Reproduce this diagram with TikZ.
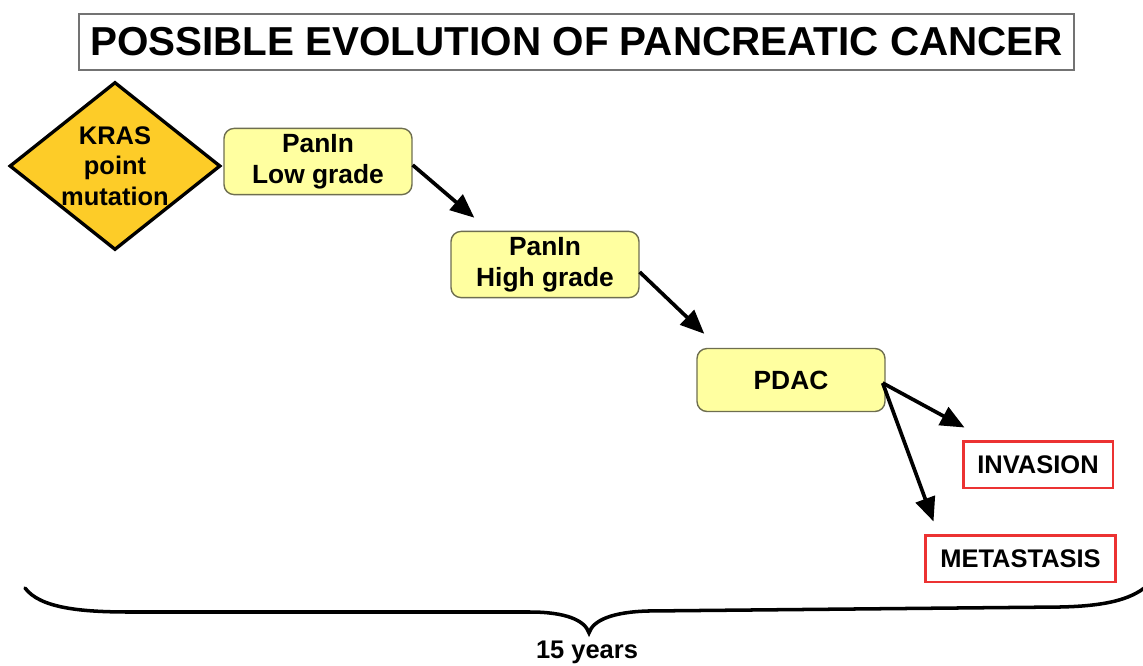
\documentclass[tikz,border=0pt]{standalone}
\usepackage{fontspec}
\setmainfont{Liberation Sans}
\usetikzlibrary{shapes.geometric,arrows.meta,positioning}

\definecolor{krasgold}{RGB}{253,204,40}
\definecolor{paninfill}{RGB}{255,255,160}
\definecolor{paninedge}{RGB}{110,110,80}
\definecolor{outred}{RGB}{236,50,50}

\tikzset{
  stage/.style={draw=paninedge, fill=paninfill, rounded corners=0.2cm, line width=0.8pt,
    minimum width=3.76cm, minimum height=1.26cm, align=center,
    font=\bfseries\fontsize{15}{17.5}\selectfont},
  outcome/.style={draw=outred, fill=white, line width=1.7pt, minimum height=0.94cm,
    font=\bfseries\fontsize{14.5}{17}\selectfont},
  flow/.style={-{Triangle[length=0.48cm,width=0.4cm]}, line width=2.1pt},
}

\begin{document}
\begin{tikzpicture}[x=0.02cm, y=-0.02cm]

    % Canvas
    \useasboundingbox (0,0) rectangle (1143,666);

    % Title
    \node[draw=black!55, line width=0.7pt, minimum width=19.9cm, minimum height=1.12cm,
          font=\bfseries\fontsize{23}{26}\selectfont] (title) at (576.5,42)
        {POSSIBLE EVOLUTION OF PANCREATIC CANCER};

    % Starting mutation
    \node[diamond, draw=black, fill=krasgold, line width=1.9pt, aspect=1.256, inner sep=0pt,
          minimum width=4.22cm, minimum height=3.36cm, align=center,
          font=\bfseries\fontsize{14.5}{17.5}\selectfont] (kras) at (115,166)
        {KRAS\\point\\mutation};

    % Precursor lesions and carcinoma
    \node[stage] (lowgrade) at (318,161.5) {PanIn\\Low grade};
    \node[stage] (highgrade) at (545,264.5) {PanIn\\High grade};
    \node[stage] (pdac) at (791,380) {PDAC};

    % Outcomes
    \node[outcome, minimum width=3.0cm] (invasion) at (1038,464.5) {INVASION};
    \node[outcome, minimum width=3.82cm] (metastasis) at (1020.5,558.5) {METASTASIS};

    % Arrow tips (they stop short of the boxes)
    \coordinate (tiphigh) at ([xshift=0.48cm, yshift=0.26cm]highgrade.north west);
    \coordinate (tippdac) at ([xshift=0.16cm, yshift=0.28cm]pdac.north west);
    \coordinate (tipinv) at ([xshift=0.06cm, yshift=0.24cm]invasion.north west);
    \coordinate (tipmet) at ([xshift=0.2cm, yshift=0.24cm]metastasis.north west);

    % Progression
    \draw[flow] ([yshift=-0.07cm]lowgrade.east) -- (tiphigh);
    \draw[flow] ([yshift=-0.15cm]highgrade.east) -- (tippdac);
    \draw[flow] ([xshift=-0.06cm, yshift=-0.06cm]pdac.east) -- (tipinv);
    \draw[flow] ([xshift=-0.06cm, yshift=-0.06cm]pdac.east) -- (tipmet);

    % Time span brace
    \draw[line width=2pt, line cap=round]
        (25,588) .. controls (40,608) and (80,612) .. (130,612) -- (530,612)
        .. controls (565,612) and (585,620) .. (589,633)
        .. controls (593,620) and (613,612) .. (648,611) -- (1060,607)
        .. controls (1110,606) and (1135,598) .. (1150,583);

    \node[font=\bfseries\fontsize{14.5}{17}\selectfont] (years) at (587,652) {15 years};

\end{tikzpicture}
\end{document}
